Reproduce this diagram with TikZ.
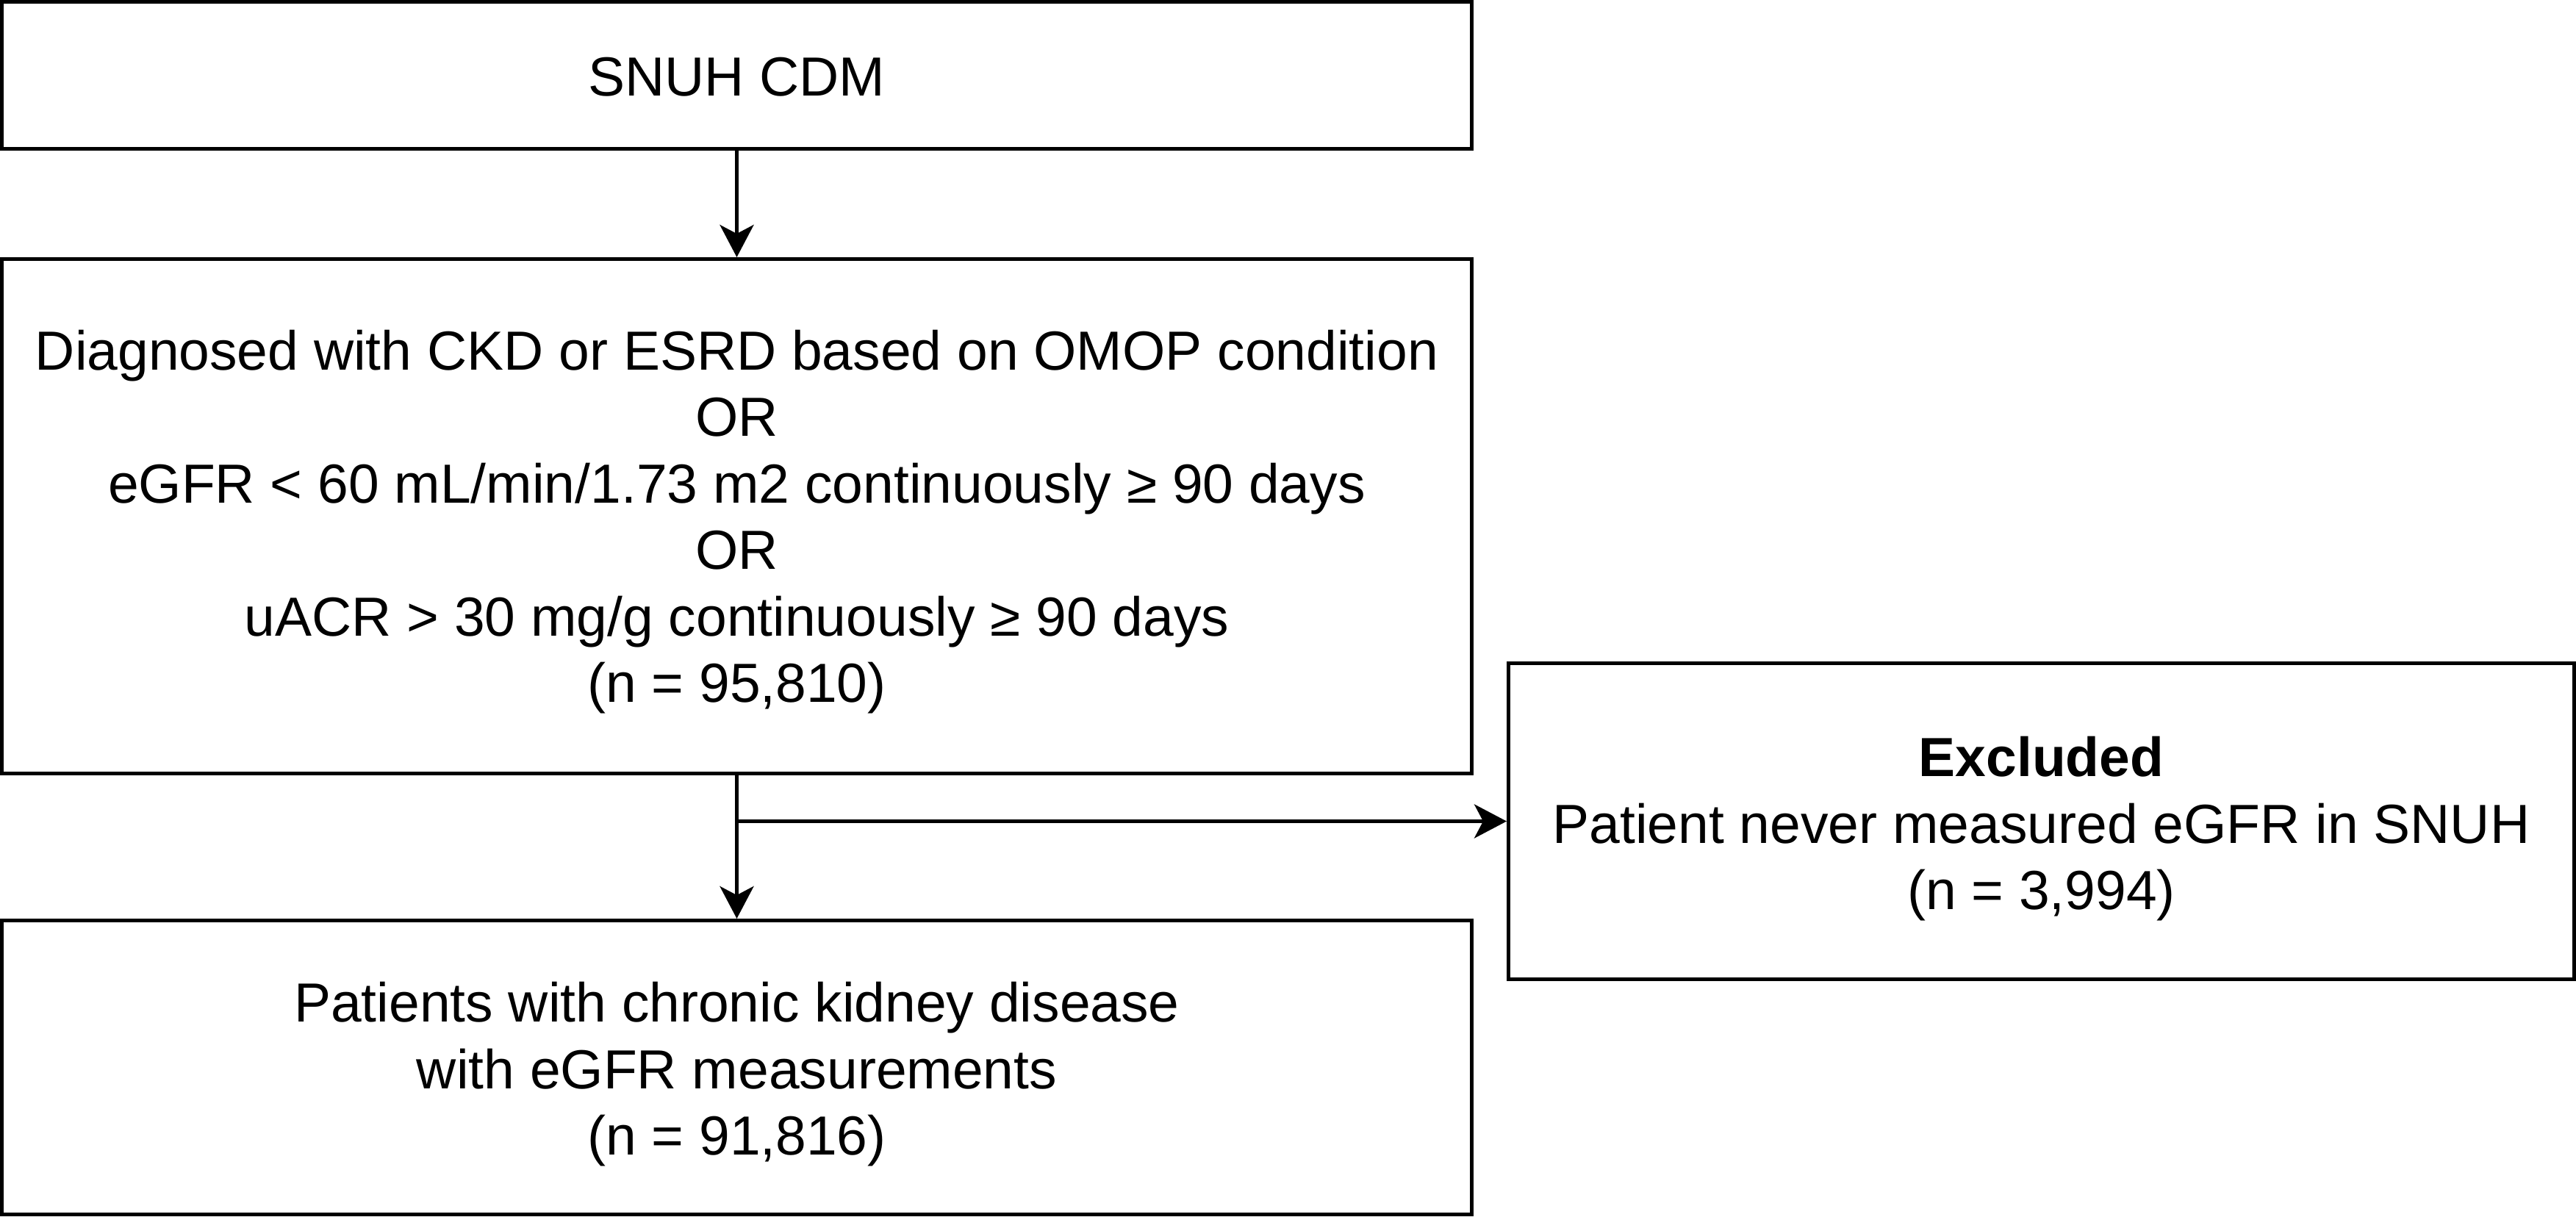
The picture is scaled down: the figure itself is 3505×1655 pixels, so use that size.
\documentclass[tikz,border=0pt]{standalone}
\usepackage{fontspec}
\setmainfont{Liberation Sans}
\usetikzlibrary{arrows.meta}
\begin{document}
\begin{tikzpicture}[x=0.2pt,y=-0.2pt,
  boxstyle/.style={draw=black, line width=1pt, rectangle, inner sep=0pt},
  txt/.style={inner sep=0pt, align=center, font=\fontsize{15}{18.1}\selectfont},
  arr/.style={line width=1pt, -{Stealth[length=8.8pt, width=9.2pt, inset=2.4pt]}}]
\useasboundingbox (0,0) rectangle (3505,1655);
\node[boxstyle, minimum width=400pt, minimum height=40pt] (b1) at (1002.5,102.5) {};
\node[boxstyle, minimum width=400pt, minimum height=140pt] (b2) at (1002.5,702.5) {};
\node[boxstyle, minimum width=400pt, minimum height=80pt] (b3) at (1002.5,1452.5) {};
\node[boxstyle, minimum width=290pt, minimum height=86pt] (b4) at (2777.5,1117.5) {};
\node[txt] (t1) at (1002.5,105) {SNUH CDM};
\node[txt] (t2) at (1002.5,710)
  {Diagnosed with CKD or ESRD based on OMOP condition\\OR\\eGFR < 60 mL/min/1.73 m2 continuously ≥ 90 days\\OR\\uACR > 30 mg/g continuously ≥ 90 days\\(n = 95,810)};
\node[txt] (t3) at (1002.5,1462)
  {Patients with chronic kidney disease\\with eGFR measurements\\(n = 91,816)};
\node[txt] (t4) at (2777.5,1128)
  {\textbf{Excluded}\\Patient never measured eGFR in SNUH\\(n = 3,994)};
\coordinate (j) at (1002.5,1117.5);
\draw[arr] (b1.south) -- (b2.north);
\draw[arr] (b2.south) -- (b3.north);
\draw[arr] (j) -- (b4.west);
\end{tikzpicture}
\end{document}
